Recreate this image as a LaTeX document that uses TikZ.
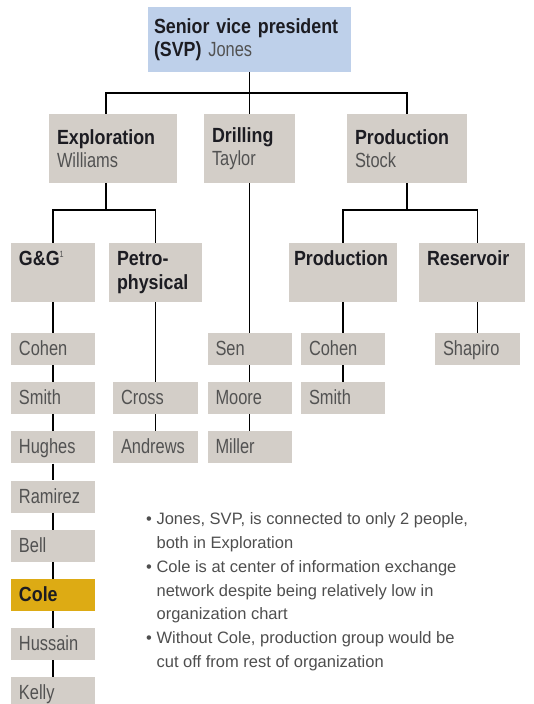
\documentclass[tikz,border=0pt]{standalone}
\usepackage{fontspec}
\setmainfont{Liberation Sans}
\newfontfamily\condbold{Liberation Sans}[FakeStretch=0.87]
\newfontfamily\condreg{Liberation Sans}[FakeStretch=0.80]
\usetikzlibrary{positioning}

\definecolor{svpblue}{RGB}{190,208,234}
\definecolor{boxgray}{RGB}{211,206,200}
\definecolor{colegold}{RGB}{221,171,20}
\definecolor{headink}{RGB}{28,28,34}
\definecolor{nameink}{RGB}{82,82,82}
\definecolor{noteink}{RGB}{78,78,78}

\newcommand\hd[1]{{\condbold\bfseries\color{headink}#1}}
\newcommand\nohyph{\hyphenpenalty=10000\relax}

\begin{document}
\begin{tikzpicture}[
    x=1pt, y=-1pt,
    node distance=16.8pt,
    unit/.style={
        fill=boxgray,
        inner xsep=8pt,
        inner ysep=0pt,
        align=left,
        font=\fontsize{20.5}{23.5}\selectfont\condreg\nohyph,
        text=nameink,
    },
    head/.style={
        unit,
        minimum height=69pt,
    },
    group/.style={
        unit,
        minimum height=59pt,
    },
    topline/.style={
        unit,
        text height=22pt,
        text depth=37pt,
    },
    person/.style={
        unit,
        text width=68pt,
        text height=22.5pt,
        text depth=9.5pt,
    },
    link/.style={
        line width=1.6pt,
    },
    notes/.style={
        align=left,
        inner sep=0pt,
        font=\fontsize{16.5}{23.8}\selectfont,
        text=noteink,
    }
]
    \useasboundingbox (0,0) rectangle (533,704);
    \clip (0,0) rectangle (533,704);

    % Top of the chart
    \node[unit, fill=svpblue, inner xsep=6pt, text width=191pt, minimum height=65pt] (svp) at (249.5,39.5)
        {\hd{Senior vice president}\\\hd{(SVP)} Jones};

    % Departments
    \node[head, text width=112pt] (expl) at (113,148.5) {\hd{Exploration}\\Williams};
    \node[head, text width=75pt] (drill) at (249.5,148.5) {\hd{Drilling}\\Taylor};
    \node[head, text width=104pt] (prod) at (407,148.5) {\hd{Production}\\Stock};

    % Groups
    \node[topline, text width=68pt] (gg) at (53,272.5)
        {\hd{G\&G}\raisebox{8pt}{\fontsize{9}{9}\selectfont 1}};
    \node[group, text width=77pt] (petro) at (155.5,272.5) {\hd{Petro-}\\\hd{physical}};
    \node[topline, inner xsep=5pt, text width=98pt] (prodgrp) at (343,272.5) {\hd{Production}};
    \node[topline, text width=90pt] (resv) at (472,272.5) {\hd{Reservoir}};

    % People
    \node[person] (cohenA) at (53,349) {Cohen};
    \node[person, below=of cohenA] (smithA) {Smith};
    \node[person, below=of smithA] (hughes) {Hughes};
    \node[person, below=of hughes] (ramirez) {Ramirez};
    \node[person, below=of ramirez] (bell) {Bell};
    \node[person, below=of bell, fill=colegold] (cole) {\hd{Cole}};
    \node[person, below=of cole] (hussain) {Hussain};
    \node[person, below=of hussain] (kelly) {Kelly};

    \node[person, text width=69pt] (cross) at (155.5,397.8) {Cross};
    \node[person, text width=69pt, below=of cross] (andrews) {Andrews};

    \node[person] (sen) at (249.5,349) {Sen};
    \node[person, below=of sen] (moore) {Moore};
    \node[person, below=of moore] (miller) {Miller};

    \node[person] (cohenB) at (343,349) {Cohen};
    \node[person, below=of cohenB] (smithB) {Smith};

    \node[person, text width=69pt] (shapiro) at (477.5,349) {Shapiro};

    % Buses
    \coordinate (topbus) at (0,93);
    \coordinate (explbus) at (0,210);
    \coordinate (prodbus) at (0,210);
    \coordinate (explx) at (106,0);

    % Connectors
    \draw[link] (svp) -- (drill);
    \draw[link] (explx |- expl.north) |- (topbus -| prod.north) -- (prod.north);
    \draw[link] (explx |- expl.south) -- (explx |- explbus);
    \draw[link] (gg.north) |- (explbus -| petro.north) -- (petro.north);
    \draw[link] (prod.south) -- (prod.south |- prodbus);
    \draw[link] (prodgrp.north) |- (prodbus -| shapiro.north) -- (shapiro.north |- resv.north);
    \draw[link] (shapiro.north |- resv.south) -- (shapiro.north);

    \draw[link] (gg) -- (cohenA) -- (smithA) -- (hughes) -- (ramirez)
        -- (bell) -- (cole) -- (hussain) -- (kelly);
    \draw[link] (petro) -- (cross) -- (andrews);
    \draw[link] (drill) -- (sen) -- (moore) -- (miller);
    \draw[link] (prodgrp) -- (cohenB) -- (smithB);

    % Remarks
    \node[notes, anchor=north west] (remarks) at (146,512.5) {%
        \textbullet\ Jones, SVP, is connected to only 2 people,\\
        \hspace*{10.4pt}both in Exploration\\
        \textbullet\ Cole is at center of information exchange\\
        \hspace*{10.4pt}network despite being relatively low in\\
        \hspace*{10.4pt}organization chart\\
        \textbullet\ Without Cole, production group would be\\
        \hspace*{10.4pt}cut off from rest of organization};
\end{tikzpicture}
\end{document}
